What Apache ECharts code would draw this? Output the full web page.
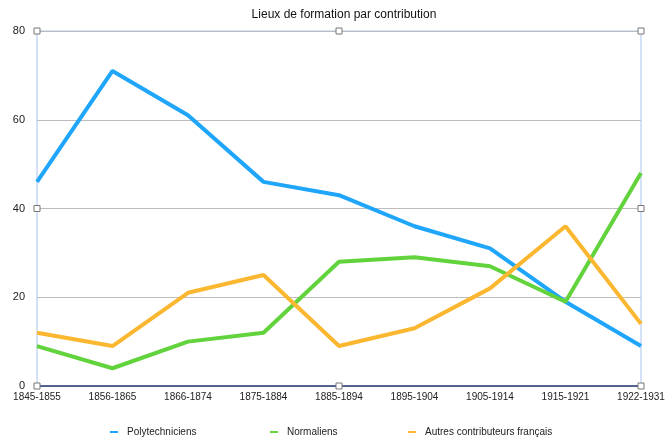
<!DOCTYPE html>
<html><head><meta charset="utf-8">
<script src="https://cdn.jsdelivr.net/npm/echarts@6/dist/echarts.min.js"></script>
<style>html,body{margin:0;padding:0;background:#fff}#c{width:665px;height:439px}</style>
</head><body><div id="c"></div>
<script>
const categories = ['1845-1855','1856-1865','1866-1874','1875-1884','1885-1894','1895-1904','1905-1914','1915-1921','1922-1931'];
const polytechniciens = [46, 71, 61, 46, 43, 36, 31, 19, 9];
const normaliens = [9, 4, 10, 12, 28, 29, 27, 19, 48];
const autres = [12, 9, 21, 25, 9, 13, 22, 36, 14];
const yTicks = [0, 20, 40, 60, 80];
const seriesNames = ['Polytechniciens', 'Normaliens', 'Autres contributeurs français'];

const chart = echarts.init(document.getElementById('c'), null, {renderer: 'canvas'});
const L = 37, R = 641, T = 31, B = 386;
const font = '"Liberation Sans", Arial, sans-serif';
function handle(x, y) {
  return {type: 'rect', shape: {x: x - 3, y: y - 3, width: 6, height: 6},
    style: {fill: '#fff', stroke: '#777', lineWidth: 1}, z: 100};
}
const mx = (L + R) / 2, my = (T + B) / 2;
function mkSeries(name, data, color) {
  return {name, type: 'line', data, symbol: 'none', lineStyle: {width: 4, color}, itemStyle: {color}};
}
function mkLegend(name, left) {
  return {top: 427, left, itemWidth: 8, itemHeight: 2, icon: 'rect', padding: 0,
    textStyle: {fontSize: 10, color: '#222', fontFamily: font, padding: [0, 0, 0, 4]}, data: [name]};
}
chart.setOption({
  animation: false,
  textStyle: {fontFamily: font},
  title: {text: 'Lieux de formation par contribution', left: mx, textAlign: 'center', top: 4,
    textStyle: {fontSize: 12, fontWeight: 'normal', color: '#111', fontFamily: font}},
  grid: {left: L, right: 665 - R, top: T, bottom: 439 - B, show: true, borderColor: '#a9c3f3', borderWidth: 1,
    containLabel: false, outerBoundsMode: 'none'},
  xAxis: {type: 'category', data: categories, boundaryGap: false,
    axisLine: {lineStyle: {color: '#2b3f73', width: 1.5}}, axisTick: {show: false},
    axisLabel: {fontSize: 10, color: '#222', margin: 6, interval: 0}},
  yAxis: {type: 'value', min: yTicks[0], max: yTicks[yTicks.length - 1], interval: 20,
    axisLine: {show: false}, axisTick: {show: false},
    axisLabel: {fontSize: 11, color: '#222', margin: 12},
    splitLine: {lineStyle: {color: '#bdbdbd', width: 1}}},
  legend: [mkLegend(seriesNames[0], 110), mkLegend(seriesNames[1], 270), mkLegend(seriesNames[2], 408)],
  series: [
    mkSeries(seriesNames[0], polytechniciens, '#1fa6fa'),
    mkSeries(seriesNames[1], normaliens, '#62d33c'),
    mkSeries(seriesNames[2], autres, '#fbb730')
  ],
  graphic: [handle(L, T), handle(mx, T), handle(R, T), handle(L, my), handle(R, my), handle(L, B), handle(mx, B), handle(R, B)]
});
</script></body></html>
